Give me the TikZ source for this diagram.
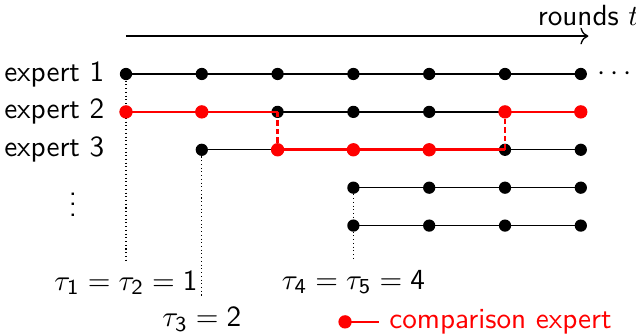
\documentclass[11pt,tikz,border=0pt]{standalone}
\usepackage{tikz}
\usetikzlibrary{arrows.meta, positioning}

% sans digits inside math
\newcommand{\sd}[1]{\mathsf{#1}}

\begin{document}
\begin{tikzpicture}[font=\sffamily,
  dot/.style={circle, fill=black, inner sep=0pt, minimum size=4.6pt},
  rdot/.style={dot, fill=red, minimum size=5pt},
  plain/.style={black, line width=0.5pt},
  comp/.style={red, line width=1pt},
  switch/.style={comp, dash pattern=on 2pt off 1.2pt},
  start/.style={black, densely dotted, line width=0.4pt}]
\useasboundingbox (-1.662,-3.456) rectangle (6.728,0.976);

% time axis
\coordinate (t0) at (0,0.5);
\coordinate (t1) at (6.1,0.5);
\draw[-{To[length=3pt]}, line width=0.5pt] (t0) -- (t1) node[above] (rounds) {rounds $t$};

% experts: row/first round
\foreach \r/\s in {1/1,2/1,3/2,4/4,5/4} {
  \foreach \c in {\s,...,7}
    \node[dot] (d\r-\c) at ({\c-1},{-(\r-1)*0.5}) {};
  \draw[plain] (d\r-\s.center) -- (d\r-7.center);
}

% names
\node[anchor=east] (e1) at (-0.15,0) {expert 1};
\node[anchor=east] (e2) at (-0.15,-0.5) {expert 2};
\node[anchor=east] (e3) at (-0.15,-1) {expert 3};
\node (vd) at (-0.7,-1.62) {$\vdots$};
\node[right=0pt of d1-7] (hd) {$\cdots$};

% starting times
\coordinate (s12) at (0,-2.47);
\coordinate (s3) at (1,-2.95);
\coordinate (s45) at (3,-2.45);
\draw[start] (d1-1.south) -- (s12);
\draw[start] (d3-2.south) -- (s3);
\draw[start] (d4-4.south) -- (s45);
\node[below] (tau12) at (s12) {$\tau_{\sd1}=\tau_{\sd2}=\sd1$};
\node[below] (tau3) at (s3) {$\tau_{\sd3}=\sd2$};
\node[below] (tau45) at (s45) {$\tau_{\sd4}=\tau_{\sd5}=\sd4$};

% comparison expert
\draw[comp] (d2-1.center) -- (d2-3.center);
\draw[switch] (d2-3.center) -- (d3-3.center);
\draw[comp] (d3-3.center) -- (d3-6.center);
\draw[switch] (d3-6.center) -- (d2-6.center);
\draw[comp] (d2-6.center) -- (d2-7.center);
\foreach \n in {d2-1,d2-2,d3-3,d3-4,d3-5,d2-6,d2-7}
  \node[rdot] (r\n) at (\n) {};

% legend
\node[rdot] (leg) at (2.89,-3.27) {};
\node[anchor=west, text=red] (legtxt) at (3.34,-3.27) {comparison expert};
\draw[comp] (leg.center) -- (legtxt.west);

\end{tikzpicture}
\end{document}
